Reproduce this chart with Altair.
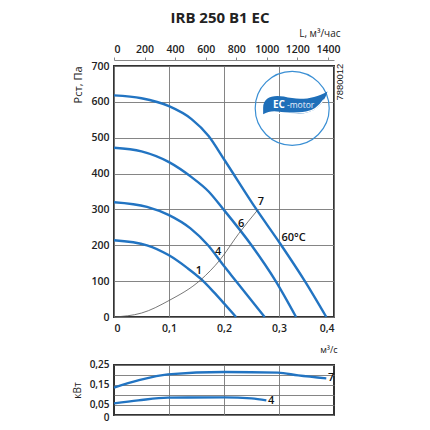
import altair as alt
import pandas as pd

# ---- data ----
Q7 = [0, 0.05, 0.1, 0.141, 0.172, 0.2, 0.259, 0.302, 0.347, 0.386]
P7 = [618, 610, 588, 552, 505, 440, 300, 205, 100, 0]
Q6 = [0, 0.05, 0.1, 0.141, 0.172, 0.198, 0.25, 0.294, 0.331]
P6 = [472, 462, 432, 390, 350, 302, 200, 100, 0]
Q4 = [0, 0.06, 0.1, 0.139, 0.171, 0.2, 0.222, 0.274]
P4 = [320, 307, 284, 247, 200, 142, 100, 0]
Q1 = [0, 0.06, 0.1, 0.133, 0.158, 0.181, 0.2, 0.222]
P1 = [214, 200, 172, 137, 106, 70, 38, 0]

QS = [0, 0.05, 0.1, 0.158, 0.192, 0.227, 0.262]
PS = [0, 11, 46, 104, 158, 233, 300]

QW7 = [0, 0.044, 0.098, 0.201, 0.298, 0.335, 0.386]
W7 = [0.137, 0.173, 0.203, 0.215, 0.212, 0.198, 0.183]
QW4 = [0, 0.044, 0.098, 0.201, 0.25, 0.277]
W4 = [0.058, 0.073, 0.087, 0.088, 0.083, 0.073]

L_TICKS = [0, 200, 400, 600, 800, 1000, 1200, 1400]
Q_TICKS = [0, 0.1, 0.2, 0.3, 0.4]
P_TICKS = [0, 100, 200, 300, 400, 500, 600, 700]
W_TICKS = [0, 0.05, 0.1, 0.15, 0.2, 0.25]

CURVE_LABELS = ["7", "6", "4", "1", "60°C"]
CURVE_LABEL_Q = [0.267, 0.231, 0.189, 0.154, 0.31]
CURVE_LABEL_P = [322, 259, 182, 128, 220]

POWER_LABELS = ["7", "4"]
POWER_LABEL_Q = [0.389, 0.28]
POWER_LABEL_W = [0.183, 0.07]

BLUE = "#2274c2"
FONT = "Open Sans"

curves = pd.concat([
    pd.DataFrame({"Q": q, "P": p, "c": name})
    for q, p, name in [(Q7, P7, "7"), (Q6, P6, "6"), (Q4, P4, "4"), (Q1, P1, "1")]
])
system = pd.DataFrame({"Q": QS, "P": PS})
labels = pd.DataFrame({"Q": CURVE_LABEL_Q, "P": CURVE_LABEL_P, "t": CURVE_LABELS})
power = pd.concat([
    pd.DataFrame({"Q": q, "W": w, "c": name})
    for q, w, name in [(QW7, W7, "7"), (QW4, W4, "4")]
])
plabels = pd.DataFrame({"Q": POWER_LABEL_Q, "W": POWER_LABEL_W, "t": POWER_LABELS})
ltick = pd.DataFrame({"L": L_TICKS})

num_expr = "replace(format(datum.value, '.2~f'), '.', ',')"

xq = alt.X("Q:Q", scale=alt.Scale(domain=[0, 0.4], nice=False),
           axis=alt.Axis(values=Q_TICKS, labelExpr=num_expr, title="м³/с",
                         titleAnchor="end", titleAlign="right", titleFontSize=9,
                         titleFontWeight="normal", titlePadding=12, titleX=223,
                         grid=True, ticks=False, domain=False, labelPadding=6,
                         labelOverlap=False, tickCount=5))
yp = alt.Y("P:Q", scale=alt.Scale(domain=[0, 700], nice=False),
           axis=alt.Axis(values=P_TICKS, title="Рст, Па", grid=True, ticks=False,
                         domain=False, labelPadding=5, titleFontSize=11,
                         titleFontWeight="normal", titlePadding=7,
                         titleAnchor="end", labelOverlap=False, tickCount=8))

lines = alt.Chart(curves).mark_line(color=BLUE, strokeWidth=2.4, interpolate="monotone").encode(
    x=xq, y=yp, detail="c:N")
sys_line = alt.Chart(system).mark_line(color="#555555", strokeWidth=0.8, interpolate="monotone").encode(
    x=xq, y=yp)
txt = alt.Chart(labels).mark_text(fontSize=11, font=FONT, fontWeight=600, color="#111111",
                                  align="left", dx=-3).encode(x=xq, y=yp, text="t:N")

logo_df = pd.DataFrame({"Q": [0.324], "P": [582]})
leaf_df = pd.DataFrame({"Q": [0.329], "P": [594]})
circle = alt.Chart(logo_df).mark_point(shape="circle", size=5476, filled=False,
                                       color="#3a8fd4", strokeWidth=1.2, opacity=1).encode(x=xq, y=yp)
leaf = alt.Chart(leaf_df).mark_point(
    shape="M-0.86,0.1 C-0.86,-0.18 -0.6,-0.26 -0.3,-0.2 C0.1,-0.1 0.5,-0.12 0.88,-0.34 "
          "C0.78,0.02 0.5,0.26 0.1,0.26 C-0.3,0.26 -0.6,0.1 -0.86,0.28 Z",
    size=5476, filled=True, color="#1f6fb9", opacity=1, strokeWidth=0).encode(x=xq, y=yp)
swoosh = alt.Chart(leaf_df).mark_point(
    shape="M-0.84,0.42 C-0.6,0.15 -0.2,0.3 0.3,0.22 C0.55,0.18 0.7,0.0 0.78,-0.12",
    size=5476, filled=False, color="#ffffff", strokeWidth=1.2, opacity=1).encode(x=xq, y=yp)
ec_txt = alt.Chart(leaf_df).mark_text(text="EC", fontSize=10, font=FONT, fontWeight="bold",
                                      color="white", align="left", dx=-22, dy=1).encode(x=xq, y=yp)
motor_txt = alt.Chart(leaf_df).mark_text(text="-motor", fontSize=8.5, font=FONT, fontWeight="normal",
                                         color="#e8f0fa", align="left", dx=-8, dy=1).encode(x=xq, y=yp)
code_df = pd.DataFrame({"Q": [0.41], "P": [655]})
code_txt = alt.Chart(code_df).mark_text(text="7880012", fontSize=9.5, font="Liberation Sans", angle=270,
                                        color="#111111").encode(x=xq, y=yp)
top_axis = alt.Chart(ltick).mark_point(opacity=0).encode(
    x=alt.X("L:Q", scale=alt.Scale(domain=[0, 1440], nice=False),
            axis=alt.Axis(orient="top", values=L_TICKS, format="d", title="L, м³/час", titleAnchor="end",
                          titleAlign="right", titleX=226, titleY=-27, titleBaseline="middle",
                          titleFontSize=10, titleFontWeight="normal",
                          grid=False, ticks=True, tickSize=3, tickColor="#888888",
                          domain=True, domainColor="#888888", offset=6, labelPadding=3,
                          labelOverlap=False)))

inner = alt.layer(lines, sys_line, txt, circle, leaf, swoosh, ec_txt, motor_txt, code_txt)
main = alt.layer(inner, top_axis).resolve_scale(x="independent").properties(
    width=220, height=251,
    title=alt.Title("IRB 250 B1 EC", fontSize=15, font=FONT, fontWeight="bold", anchor="middle",
                    dx=-4, offset=2, color="#222222"))

xw = alt.X("Q:Q", scale=alt.Scale(domain=[0, 0.4], nice=False),
           axis=alt.Axis(values=[0.1, 0.2, 0.3], labels=False, ticks=False, domain=False,
                         grid=True, title=None))
yw = alt.Y("W:Q", scale=alt.Scale(domain=[0, 0.25], nice=False),
           axis=alt.Axis(values=W_TICKS, title="кВт", grid=True, ticks=False, domain=False,
                         labelExpr="(datum.value == 0.1 || datum.value == 0.2) ? '' : " + num_expr,
                         labelPadding=5, titleFontSize=10, titleFontWeight="normal", titlePadding=7,
                         labelOverlap=False, labelFontSize=10,
                         labelOffset={"condition": {"test": "datum.value == 0", "value": 2}, "value": -1}))
wline = alt.Chart(power).mark_line(color=BLUE, strokeWidth=2.4, interpolate="monotone").encode(
    x=xw, y=yw, detail="c:N")
wtxt = alt.Chart(plabels).mark_text(fontSize=11, font=FONT, fontWeight=600, color="#111111",
                                    align="left").encode(x=xw, y=yw, text="t:N")
bottom = alt.layer(wline, wtxt).properties(width=220, height=50)

chart = alt.vconcat(main, bottom, spacing=48, bounds="flush").properties(
    padding={"left": 63, "top": 2, "right": 5, "bottom": 5}
).configure_view(stroke="#333333", strokeWidth=2).configure_axis(
    labelFont=FONT, titleFont=FONT, labelFontSize=10.5, labelColor="#222222", titleColor="#222222",
    gridColor="#777777", gridWidth=0.9, labelFontWeight=600, labelOverlap=False
)

chart.save("out.html", embed_options={"renderer": "svg", "actions": False})
